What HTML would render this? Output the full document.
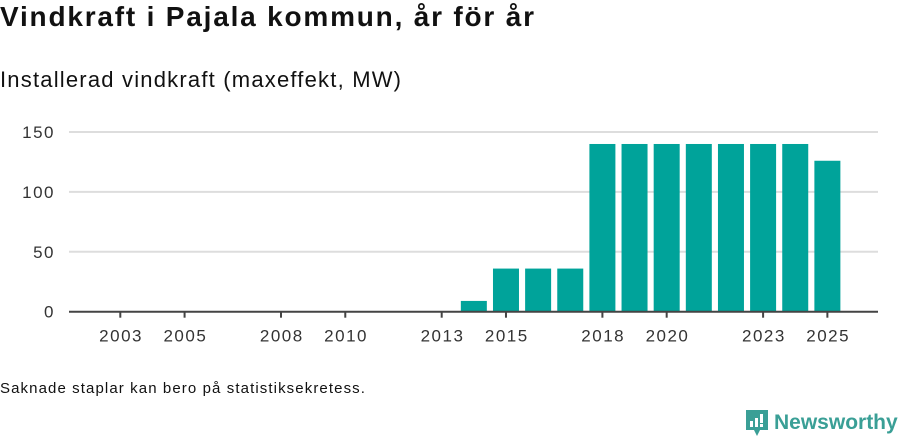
<!DOCTYPE html>
<html><head><meta charset="utf-8"><style>
body{margin:0;background:#fff;font-family:"Liberation Sans","DejaVu Sans",sans-serif;color:#111;}
#wrap{position:relative;width:900px;height:439px;overflow:hidden;}
h1{position:absolute;left:0;top:1px;margin:0;font-size:28px;letter-spacing:1.8px;font-weight:bold;}
h2{position:absolute;left:0;top:67px;margin:0;font-size:22px;letter-spacing:1.2px;font-weight:normal;}
.note{position:absolute;left:0;top:380px;font-size:15px;letter-spacing:1.1px;}
.logo{position:absolute;left:744px;top:408px;display:flex;align-items:center;color:#3a9f96;font-size:21px;font-weight:bold;}
</style></head><body>
<div id="wrap">
<h1>Vindkraft i Pajala kommun, år för år</h1>
<h2>Installerad vindkraft (maxeffekt, MW)</h2>
<svg id="chart" width="900" height="439" style="position:absolute;left:0;top:0"></svg>
<div class="note">Saknade staplar kan bero på statistiksekretess.</div>
<div class="logo">
<svg width="26" height="30" viewBox="0 0 26 30"><path d="M2 2h22v20H16l-3 6-3-6H2z" fill="#3a9f96"/><rect x="6" y="13" width="3" height="6" fill="#fff"/><rect x="11" y="10" width="3" height="9" fill="#fff"/><rect x="16" y="6" width="3" height="9" fill="#fff"/><rect x="16" y="16" width="3" height="3" fill="#fff"/></svg>
<span style="margin-left:4px">Newsworthy</span></div>
</div>
<script>
const years=[2003,2004,2005,2006,2007,2008,2009,2010,2011,2012,2013,2014,2015,2016,2017,2018,2019,2020,2021,2022,2023,2024,2025];
const values=[0,0,0,0,0,0,0,0,0,0,0,9,36,36,36,140,140,140,140,140,140,140,126];
const yTicks=[0,50,100,150];
const xTickLabels=[2003,2005,2008,2010,2013,2015,2018,2020,2023,2025];
const NS='http://www.w3.org/2000/svg';
const svg=document.getElementById('chart');
const x0=120.3,step=32.14,base=311.7,k=1.198,bw=26;
const xs=y=>x0+(y-2003)*step;
const ys=v=>base-v*k;
function mk(t,a){const e=document.createElementNS(NS,t);for(const n in a)e.setAttribute(n,a[n]);svg.appendChild(e);return e;}
yTicks.forEach(t=>{
 if(t>0){const g=mk('line',{x1:69,x2:878,y1:ys(t),y2:ys(t),stroke:'#ddd','stroke-width':2});
 
 }
 const l=mk('text',{x:55,y:ys(t)+6,'text-anchor':'end','font-size':17,'letter-spacing':1.5,fill:'#333','font-family':'Liberation Sans, sans-serif'});
 l.textContent=t;
 
 
});
years.forEach((yr,i)=>{
 if(values[i]<=0)return;
 const r=mk('rect',{x:xs(yr)-bw/2,y:ys(values[i]),width:bw,height:base-ys(values[i]),fill:'#00a39a'});
 
 
});
const ax=mk('line',{x1:69,x2:878,y1:base,y2:base,stroke:'#444','stroke-width':2});


xTickLabels.forEach(yr=>{
 const t=mk('line',{x1:xs(yr),x2:xs(yr),y1:base,y2:base+6,stroke:'#444','stroke-width':2});
 
 
 const l=mk('text',{x:xs(yr)+0.8,y:base+30,'text-anchor':'middle','font-size':17,'letter-spacing':1.5,fill:'#333','font-family':'Liberation Sans, sans-serif'});
 l.textContent=yr;
 
 
});
</script>
</body></html>
